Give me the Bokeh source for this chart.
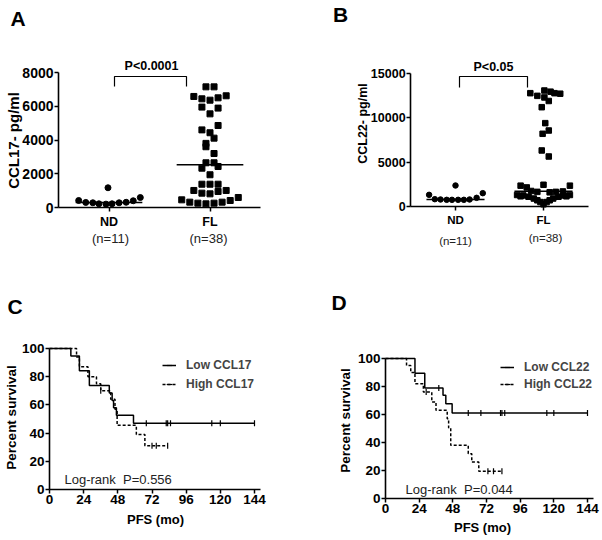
import numpy as np
from bokeh.plotting import figure
from bokeh.layouts import gridplot
from bokeh.models import Label, Legend, LegendItem, FixedTicker
from bokeh.embed import file_html
from bokeh.resources import INLINE

FONT = "Liberation Sans"

# ---------------- Panel A : CCL17 serum levels ----------------
groupsA = ["ND", "FL"]
countsA = ["(n=11)", "(n=38)"]
ndA_vals = [415, 300, 280, 220, 200, 220, 280, 310, 400, 590, 1170]
ndA_jit = [-0.30, -0.23, -0.16, -0.10, -0.03, 0.03, 0.10, 0.17, 0.24, 0.31, -0.01]
flA_vals = [7150, 7150, 6580, 6440, 6360, 6500, 6620, 5950, 5890, 5550,
            4860, 4600, 4430, 4110, 3800, 3600, 3200, 2650, 2650, 2330,
            2430, 1940, 1380, 1380, 1380, 1010, 850, 810, 950, 1010,
            454, 316, 257, 217, 257, 316, 415, 593]
flA_jit = [-0.04, 0.04, -0.16, -0.08, 0.0, 0.08, 0.16, -0.08, 0.08, 0.0,
           0.08, -0.08, 0.0, 0.04, -0.04, -0.04, 0.04, -0.04, 0.04, -0.08,
           0.08, 0.0, -0.08, 0.0, 0.08, -0.16, -0.08, 0.0, 0.08, 0.16,
           -0.28, -0.20, -0.12, -0.04, 0.04, 0.12, 0.20, 0.28]
yticksA = [0, 2000, 4000, 6000, 8000]
pA_text = "P<0.0001"

# ---------------- Panel B : CCL22 serum levels ----------------
groupsB = ["ND", "FL"]
countsB = ["(n=11)", "(n=38)"]
ndB_vals = [1316, 827, 790, 752, 752, 752, 752, 790, 978, 1504, 2369]
ndB_jit = [-0.30, -0.235, -0.17, -0.10, -0.04, 0.03, 0.095, 0.16, 0.24, 0.31, 0.0]
flB_vals = [12780, 12480, 13080, 12950, 12780, 12720, 12300, 11900, 11200,
            9400, 8570, 8200, 6320, 5640,
            2350, 2150, 2450, 2350,
            1750, 1650, 1600, 1650, 1700,
            1300, 1250, 1250, 1300,
            1150, 1100, 1100, 1150,
            900, 900, 700, 700, 500, 500, 250]
flB_jit = [-0.15, -0.07, 0.01, 0.08, 0.125, 0.19, 0.01, 0.06, -0.02,
           0.02, 0.06, -0.01, -0.02, 0.06,
           -0.26, -0.19, 0.0, 0.30,
           -0.14, -0.07, 0.07, 0.14, 0.22,
           -0.30, -0.23, 0.23, 0.30,
           -0.26, -0.17, 0.17, 0.26,
           -0.11, 0.11, -0.07, 0.07, -0.035, 0.035, 0.0]
yticksB = [0, 5000, 10000, 15000]
pB_text = "P<0.05"

# ---------------- Panel C : PFS by CCL17 ----------------
low17_t = [0, 15, 21, 28, 42, 44, 45, 47, 59]
low17_s = [100, 94.7, 84.2, 73.7, 68.4, 63.2, 57.9, 52.6, 47.0]
low17_end = 144
low17_cens = [68, 82, 83, 85, 114, 120, 144]
high17_t = [0, 19, 21, 27, 33, 36, 43, 46, 47.5, 61, 67]
high17_s = [100, 94, 87, 80, 75, 70, 64, 57, 45.5, 39, 31]
high17_end = 83
high17_cens = [36, 72, 75, 83]
logrankC = "Log-rank\u00a0\u00a0P=0.556"

# ---------------- Panel D : PFS by CCL22 ----------------
low22_t = [0, 21, 28, 41, 43, 47.5]
low22_s = [100, 89.5, 79.0, 73.7, 67.6, 61.0]
low22_end = 144
low22_cens = [38, 59, 68, 82, 83, 85, 115, 120, 144]
high22_t = [0, 15, 18, 21, 27, 33, 36, 44, 45, 46.5, 59, 61.5, 66.5]
high22_s = [100, 95, 90, 82, 76, 69, 63, 57, 50.5, 38, 32, 26, 19.5]
high22_end = 83
high22_cens = [29, 73, 77, 83]
logrankD = "Log-rank\u00a0\u00a0P=0.044"

km_xticks = [0, 24, 48, 72, 96, 120, 144]
km_yticks = [0, 20, 40, 60, 80, 100]


# ---------------- layout geometry ----------------
def geom(W, H, xa, fxa, xb, fxb, ya, fya, yb, fyb, xbounds, ybounds):
    sx = (fxb - fxa) / (xb - xa)
    sy = (fyb - fya) / (yb - ya)
    return dict(W=W, H=H, xa=xa, fxa=fxa, sx=sx, ya=ya, fya=fya, sy=sy,
                xr=(xa + (0 - fxa) / sx, xa + (W - fxa) / sx),
                yr=(ya + (H - fya) / sy, ya + (0 - fya) / sy),
                xbounds=xbounds, ybounds=ybounds)


GA = geom(300, 270, 1, 108.5, 2, 209.5, 0, 207, 8000, 72, (0.5, 2.5), (0, 8000))
GB = geom(301, 270, 1, 155, 2, 243, 0, 206, 15000, 73, (0.49, 2.51), (0, 15000))
GC = geom(300, 269, 0, 49, 144, 254, 0, 219, 100, 78, (0, 148), (0, 100))
GD = geom(301, 269, 0, 85, 144, 287, 0, 228, 100, 88, (0, 148), (0, 100))


def at(g, fx, fy):
    return g["xa"] + (fx - g["fxa"]) / g["sx"], g["ya"] + (fy - g["fya"]) / g["sy"]


def make_fig(g, tick_size, xtick_size):
    p = figure(width=g["W"], height=g["H"], x_range=g["xr"], y_range=g["yr"],
               min_border_left=0, min_border_right=0,
               min_border_top=0, min_border_bottom=0,
               output_backend="svg", toolbar_location=None)
    p.grid.visible = False
    p.outline_line_color = None
    for ax in p.axis:
        ax.axis_line_width = 1.6
        ax.axis_line_color = "black"
        ax.major_tick_line_width = 1.5
        ax.major_tick_line_color = "black"
        ax.minor_tick_line_color = None
        ax.major_tick_in = 0
        ax.major_tick_out = 4
        ax.major_label_standoff = 1
        ax.major_label_text_font = FONT
        ax.major_label_text_font_style = "bold"
        ax.major_label_text_color = "black"
    p.xaxis.fixed_location = g["ybounds"][0]
    p.yaxis.fixed_location = g["xbounds"][0]
    p.xaxis.bounds = g["xbounds"]
    p.yaxis.bounds = g["ybounds"]
    p.yaxis.major_label_text_font_size = f"{tick_size}px"
    p.xaxis.major_label_text_font_size = f"{xtick_size}px"
    return p


def lab(p, g, fx, fy, text, size, bold=True, align="center", angle=0.0, color="black"):
    x, y = at(g, fx, fy)
    p.add_layout(Label(x=x, y=y, text=text, text_font=FONT,
                       text_font_size=f"{size}px",
                       text_font_style="bold" if bold else "normal",
                       text_align=align, text_baseline="middle",
                       angle=angle, text_color=color))


def dot_panel(g, groups, counts, nd_vals, nd_jit, fl_vals, fl_jit, yticks,
              ptext, letter, ytitle, pt_size, tick_size, cat_size, p_size,
              n_size, title_size, geo):
    p = make_fig(g, tick_size, cat_size)
    p.xaxis.ticker = FixedTicker(ticks=[1, 2])
    p.xaxis.major_label_overrides = {1: groups[0], 2: groups[1]}
    p.xaxis.major_label_standoff = 3
    p.yaxis.ticker = FixedTicker(ticks=yticks)
    nd_x = 1 + np.array(nd_jit)
    fl_x = 2 + np.array(fl_jit)
    p.scatter(nd_x, nd_vals, marker="circle", size=pt_size, color="black")
    p.scatter(fl_x, fl_vals, marker="square", size=pt_size, color="black")
    meds = [float(np.median(nd_vals)), float(np.median(fl_vals))]
    p.segment(x0=[0.67, 1.67], x1=[1.33, 2.33], y0=meds, y1=meds,
              line_color="black", line_width=1.5)
    # significance bracket
    bx0, by_top = at(g, geo["bl"], geo["btop"])
    bx1, by_bot = at(g, geo["br"], geo["bbot"])
    p.line([bx0, bx0, bx1, bx1], [by_bot, by_top, by_top, by_bot],
           line_color="black", line_width=1.2)
    lab(p, g, geo["px"], geo["py"], ptext, p_size)
    lab(p, g, geo["n1x"], geo["n1y"], counts[0], n_size, bold=False, color="#222222")
    lab(p, g, geo["n2x"], geo["n2y"], counts[1], n_size, bold=False, color="#222222")
    lab(p, g, geo["lx"], geo["ly"], letter, 21)
    lab(p, g, geo["tx"], geo["ty"], ytitle, title_size, angle=np.pi / 2)
    return p


pA = dot_panel(GA, groupsA, countsA, ndA_vals, ndA_jit, flA_vals, flA_jit, yticksA,
               pA_text, "A", "CCL17- pg/ml", 6, 14, 12.5, 12.5, 13, 15,
               dict(bl=114, br=186, btop=76, bbot=86, px=151, py=65,
                    n1x=110, n1y=238, n2x=208, n2y=238, lx=17.5, ly=18, tx=12.5, ty=140))
pB = dot_panel(GB, groupsB, countsB, ndB_vals, ndB_jit, flB_vals, flB_jit, yticksB,
               pB_text, "B", "CCL22- pg/ml", 5.5, 12.5, 11.5, 12.5, 11.5, 12.5,
               dict(bl=159, br=227, btop=76, bbot=87, px=193, py=66,
                    n1x=155, n1y=240, n2x=245, n2y=237, lx=40, ly=14, tx=62, ty=123))


def km_curve(p, t, s, end, cens, dash):
    xs = list(t) + [end]
    ys = list(s) + [s[-1]]
    r = p.step(xs, ys, mode="after", line_color="black", line_width=1.5, line_dash=dash)
    idx = np.searchsorted(np.array(t, dtype=float), np.array(cens, dtype=float), side="right") - 1
    cy = np.array(s, dtype=float)[idx]
    c = p.scatter(cens, cy, marker="dash", angle=np.pi / 2, size=6,
                  line_color="black", line_width=1.2)
    return r, c


def km_panel(g, lowt, lows, lowend, lowc, hight, highs, highend, highc,
             labels, logrank, letter, geo):
    p = make_fig(g, 13.5, 13.5)
    p.xaxis.ticker = FixedTicker(ticks=km_xticks)
    p.yaxis.ticker = FixedTicker(ticks=km_yticks)
    rh, ch = km_curve(p, hight, highs, highend, highc, "3 2")
    rl, cl = km_curve(p, lowt, lows, lowend, lowc, "solid")
    leg = Legend(items=[LegendItem(label=labels[0], renderers=[rl, cl]),
                        LegendItem(label=labels[1], renderers=[rh, ch])],
                 location=geo["legloc"], padding=0, margin=0, spacing=geo["spacing"],
                 glyph_width=14, glyph_height=14, label_height=14, label_standoff=10,
                 border_line_color=None, background_fill_alpha=0,
                 label_text_font=FONT, label_text_font_style="bold",
                 label_text_font_size="12px")
    p.add_layout(leg)
    lab(p, g, geo["lrx"], geo["lry"], logrank, 13, bold=False, align="left", color="#222222")
    lab(p, g, geo["pfx"], geo["pfy"], "PFS (mo)", 13)
    lab(p, g, geo["tx"], geo["ty"], "Percent survival", 13.5, angle=np.pi / 2)
    lab(p, g, geo["lx"], geo["ly"], letter, 21)
    return p


pC = km_panel(GC, low17_t, low17_s, low17_end, low17_cens,
              high17_t, high17_s, high17_end, high17_cens,
              ["Low CCL17", "High CCL17"], logrankC, "C",
              dict(legloc=(162, 148), spacing=5, lrx=64, lry=209, pfx=155, pfy=249,
                   tx=11, ty=147, lx=14.5, ly=35.5))
pD = km_panel(GD, low22_t, low22_s, low22_end, low22_cens,
              high22_t, high22_s, high22_end, high22_cens,
              ["Low CCL22", "High CCL22"], logrankD, "D",
              dict(legloc=(200, 148), spacing=3, lrx=105, lry=219, pfx=182, pfy=257,
                   tx=45, ty=150, lx=38.5, ly=31.5))

grid = gridplot([[pA, pB], [pC, pD]], toolbar_location=None)

with open("out.html", "w") as f:
    f.write(file_html(grid, INLINE))
